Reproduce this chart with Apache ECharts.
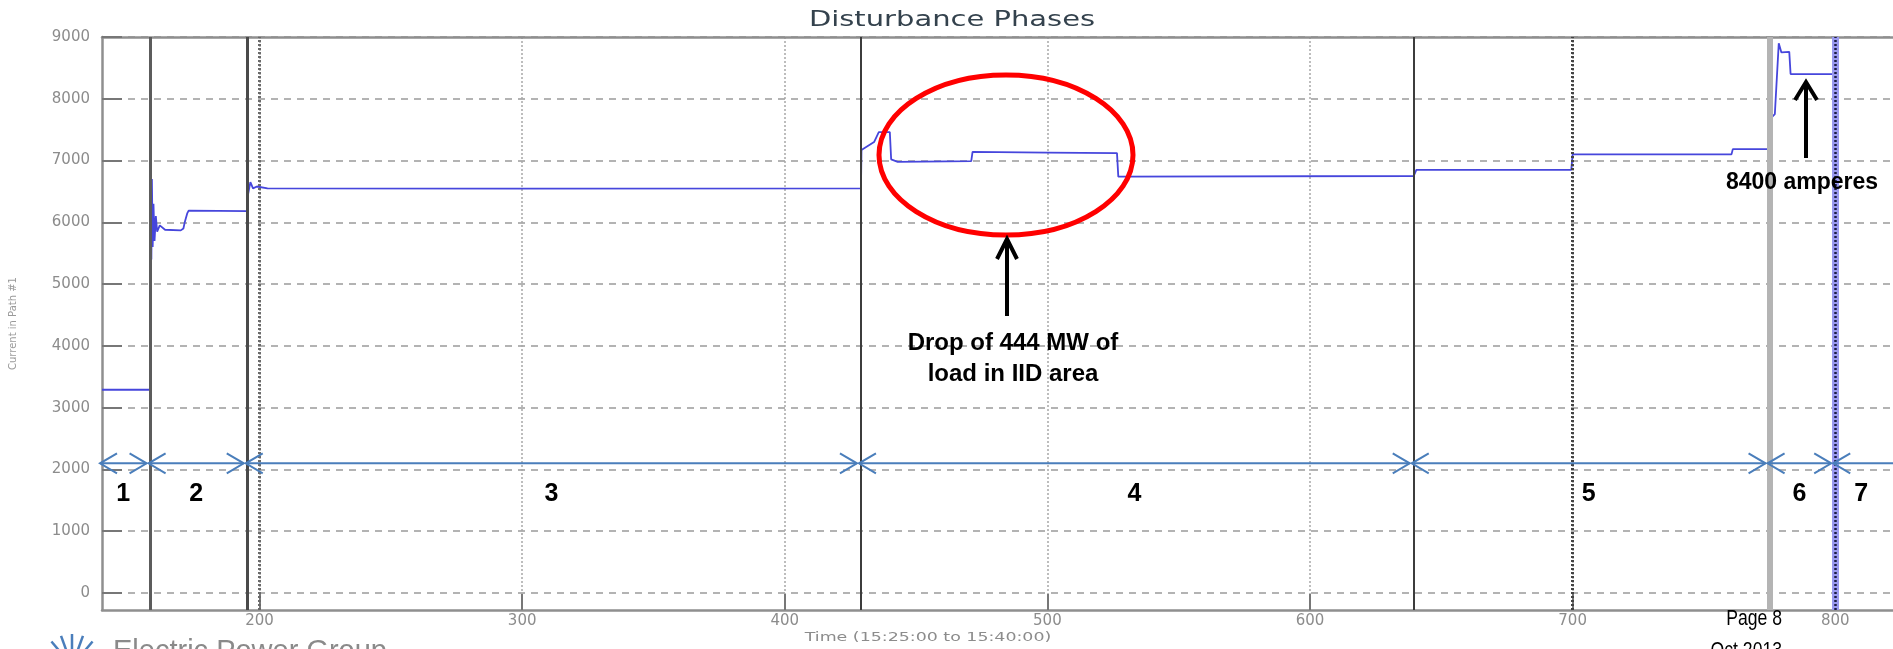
<!DOCTYPE html>
<html>
<head>
<meta charset="utf-8">
<script src="https://cdn.jsdelivr.net/npm/echarts@6/dist/echarts.min.js"></script>
<style>
  html, body { margin: 0; padding: 0; background: #ffffff; }
  #chart { width: 1893px; height: 649px; }
</style>
</head>
<body>
<div id="chart"></div>
<script>
// Path current during the disturbance, time in seconds counted from 15:25:00
const timeSec = [
  140, 158.5, 158.6, 158.8, 159.0, 159.3, 159.6, 160.0, 160.5, 161.0, 162.0, 164.0, 170.0, 171.0, 171.5,
  172.5, 173.0, 195.5, 195.6, 196.5, 197.5, 199.0, 203.0, 300.0, 429.0,
  429.2, 434.0, 435.8, 440.0, 440.5, 443.0, 471.0, 471.5, 500.0, 526.5,
  527.0, 639.5, 640.5, 699.5, 700.0, 760.5, 761.0, 775.4, 775.8, 777.0,
  778.5, 779.5, 782.5, 783.0, 800.0, 800.2
];
const current = [
  3290, 3290, 6900, 5400, 6700, 5600, 6300, 5700, 6100, 5850, 5950, 5880, 5870, 5900, 6000,
  6150, 6190, 6180, 6450, 6650, 6550, 6580, 6550, 6545, 6550,
  7170, 7300, 7460, 7460, 7020, 6980, 6990, 7140, 7130, 7120,
  6740, 6750, 6850, 6850, 7100, 7100, 7185, 7185, 7700, 7750,
  8900, 8750, 8760, 8400, 8400, -250
];

// Phase boundaries (seconds) and the phase numbers written between them
const phaseBounds = [140, 158.5, 195.5, 429, 639.5, 775, 800, 822];
const phaseLabels = ['1', '2', '3', '4', '5', '6', '7'];

// Vertical event markers (seconds)
const eventLines = [158.5, 195.5, 200, 429, 639.5, 700, 775, 800, 800];

// Axis tick labels
const xTickValues = [200, 300, 400, 500, 600, 700, 800];
const yTickValues = [0, 1000, 2000, 3000, 4000, 5000, 6000, 7000, 8000, 9000];

// Where the phase arrows and their numbers sit on the current scale
const ARROW_LEVEL = 2100;
const LABEL_LEVEL = 1600;

const eventLineStyles = [
  { color: '#5c5c5c', width: 3, type: 'solid' },
  { color: '#4a4a4a', width: 3, type: 'solid' },
  { color: '#6a6a6a', width: 3, type: [2, 2] },
  { color: '#3c3c3c', width: 2, type: 'solid' },
  { color: '#3c3c3c', width: 2, type: 'solid' },
  { color: '#444444', width: 3, type: [2, 2] },
  { color: '#b4b4b4', width: 6, type: 'solid' },
  { color: '#9a9af0', width: 7, type: 'solid' },
  { color: '#1c1c44', width: 2.5, type: [2, 2] }
];

const chart = echarts.init(document.getElementById('chart'), null, { renderer: 'canvas' });

const axisLabelFont = {
  color: '#8c8c8c', fontFamily: 'DejaVu Sans', fontSize: 15,
  formatter: function (v) { return String(v); }
};
const blue = '#4a7ebb';

function arrowHead(x, y, dir, len, half) {
  // open chevron pointing in direction dir (+1 right, -1 left)
  return [[x - dir * len, y - half], [x, y], [x - dir * len, y + half]];
}

const option = {
  animation: false,
  backgroundColor: '#ffffff',
  grid: { left: 97, right: 0, top: 37, bottom: 39, containLabel: false },
  xAxis: [
    {
      type: 'value',
      min: 140, max: 822,
      minInterval: 100, maxInterval: 100,
      axisLine: { show: true, onZero: false, lineStyle: { color: '#8f8f8f', width: 2.5 } },
      axisTick: { show: true, inside: true, length: 16, customValues: xTickValues,
                  lineStyle: { color: '#777', width: 2 } },
      axisLabel: Object.assign({ show: true, margin: 4, customValues: xTickValues }, axisLabelFont),
      splitLine: { show: true, lineStyle: { color: '#a8a8a8', width: 1.5, type: [2, 2] } }
    },
    {
      type: 'value', position: 'top',
      min: 140, max: 822,
      axisLine: { show: true, onZero: false, lineStyle: { color: '#8f8f8f', width: 2.5 } },
      axisTick: { show: false }, axisLabel: { show: false }, splitLine: { show: false }
    }
  ],
  yAxis: {
    type: 'value',
    min: -275, max: 9000,
    minInterval: 1000, maxInterval: 1000,
    name: 'Current in Path #1',
    nameLocation: 'middle',
    nameGap: 84,
    nameTextStyle: { color: '#9a9a9a', fontSize: 10, fontFamily: 'DejaVu Sans' },
    axisLine: { show: true, onZero: false, lineStyle: { color: '#8f8f8f', width: 2.5 } },
    axisTick: { show: true, inside: true, length: 20, customValues: yTickValues,
                lineStyle: { color: '#777', width: 2 } },
    axisLabel: Object.assign({ show: true, margin: 12, customValues: yTickValues }, axisLabelFont),
    splitLine: { show: true, lineStyle: { color: '#9a9a9a', width: 1.5, type: [7, 6] } }
  },
  series: [
    {
      // event markers behind the trace
      type: 'line',
      data: [],
      silent: true,
      z: 1,
      markLine: {
        silent: true,
        symbol: ['none', 'none'],
        label: { show: false },
        animation: false,
        data: eventLines.map((v, i) => ({ xAxis: v, lineStyle: eventLineStyles[i] }))
      }
    },
    {
      type: 'line',
      name: 'Current',
      data: timeSec.map((t, i) => [t, current[i]]),
      showSymbol: false,
      z: 3,
      lineStyle: { color: '#4646dc', width: 1.8 },
      itemStyle: { color: '#4646dc' }
    },
    {
      // phase arrows and numbers
      type: 'custom',
      silent: true,
      z: 5,
      clip: false,
      data: phaseLabels.map((lab, i) => [phaseBounds[i], phaseBounds[i + 1]]),
      renderItem: function (params, api) {
        const a = api.coord([api.value(0), ARROW_LEVEL]);
        const b = api.coord([api.value(1), ARROW_LEVEL]);
        const ly = api.coord([api.value(0), LABEL_LEVEL])[1];
        const y = a[1];
        const xa = a[0] - 2;
        const isLast = params.dataIndex === phaseLabels.length - 1;
        const xb = isLast ? b[0] + 60 : b[0] - 4;
        const st = { stroke: blue, lineWidth: 2, fill: null };
        const mid = (a[0] + b[0]) / 2 - 3;
        return {
          type: 'group',
          children: [
            { type: 'line', shape: { x1: xa, y1: y, x2: xb, y2: y }, style: st },
            { type: 'polyline', shape: { points: arrowHead(xa, y, -1, 17, 10) }, style: st },
            { type: 'polyline', shape: { points: arrowHead(xb, y, 1, 17, 10) }, style: st },
            { type: 'text', x: mid, y: ly,
              style: { text: phaseLabels[params.dataIndex], fill: '#000', fontSize: 25,
                       fontWeight: 'bold', fontFamily: 'Liberation Sans',
                       align: 'center', verticalAlign: 'middle' } }
          ]
        };
      }
    }
  ],
  graphic: [
    { type: 'text', x: 952, y: 21, scaleX: 1.38, originX: 0, originY: 0,
      style: { text: 'Disturbance Phases', fill: '#34424d', fontSize: 21,
               fontFamily: 'DejaVu Sans', align: 'center', verticalAlign: 'middle' } },
    { type: 'text', x: 928, y: 638, scaleX: 1.45, originX: 0, originY: 0,
      style: { text: 'Time (15:25:00 to 15:40:00)', fill: '#8c8c8c', fontSize: 12,
               fontFamily: 'DejaVu Sans', align: 'center', verticalAlign: 'middle' } },

    // red ring around the load drop
    { type: 'ellipse', shape: { cx: 1006, cy: 155, rx: 127, ry: 80 },
      style: { fill: null, stroke: '#ff0000', lineWidth: 5 }, z: 10 },
    // arrow to the ring
    { type: 'line', shape: { x1: 1007, y1: 316, x2: 1007, y2: 239 },
      style: { stroke: '#000', lineWidth: 4 }, z: 10 },
    { type: 'polyline', shape: { points: [[997, 259], [1007, 239], [1017, 259]] },
      style: { stroke: '#000', lineWidth: 4, fill: null }, z: 10 },
    { type: 'text', x: 1013, y: 343, z: 10,
      style: { text: 'Drop of 444 MW of', fill: '#000', fontSize: 24, fontWeight: 'bold',
               fontFamily: 'Liberation Sans', align: 'center', verticalAlign: 'middle' } },
    { type: 'text', x: 1013, y: 374, z: 10,
      style: { text: 'load in IID area', fill: '#000', fontSize: 24, fontWeight: 'bold',
               fontFamily: 'Liberation Sans', align: 'center', verticalAlign: 'middle' } },

    // arrow to the final level
    { type: 'line', shape: { x1: 1806, y1: 158, x2: 1806, y2: 82 },
      style: { stroke: '#000', lineWidth: 4 }, z: 10 },
    { type: 'polyline', shape: { points: [[1795, 100], [1806, 82], [1817, 100]] },
      style: { stroke: '#000', lineWidth: 4, fill: null }, z: 10 },
    { type: 'text', x: 1802, y: 183, z: 10,
      style: { text: '8400 amperes', fill: '#000', fontSize: 23, fontWeight: 'bold',
               fontFamily: 'Liberation Sans', align: 'center', verticalAlign: 'middle' } },

    // footer
    { type: 'text', x: 1782, y: 619, z: 10, scaleX: 0.8, originX: 0, originY: 0,
      style: { text: 'Page 8', fill: '#000', fontSize: 22, fontFamily: 'Liberation Sans',
               align: 'right', verticalAlign: 'middle' } },
    { type: 'text', x: 1782, y: 651, z: 10, scaleX: 0.8, originX: 0, originY: 0,
      style: { text: 'Oct 2013', fill: '#000', fontSize: 22, fontFamily: 'Liberation Sans',
               align: 'right', verticalAlign: 'middle' } },
    { type: 'text', x: 113, y: 637, z: 10,
      style: { text: 'Electric Power Group', fill: '#8a8a8a', fontSize: 29, fontFamily: 'Liberation Sans',
               align: 'left', verticalAlign: 'top' } },
    { type: 'group', x: 72, y: 666, z: 10, children: [-60, -40, -20, 0, 20, 40, 60].map(function (deg) {
        const r = deg * Math.PI / 180;
        return { type: 'line',
                 shape: { x1: Math.sin(r) * 12, y1: -Math.cos(r) * 12, x2: Math.sin(r) * 32, y2: -Math.cos(r) * 32 },
                 style: { stroke: '#4a7ebb', lineWidth: 2.5 } };
      }) }
  ]
};

chart.setOption(option);
</script>
</body>
</html>
